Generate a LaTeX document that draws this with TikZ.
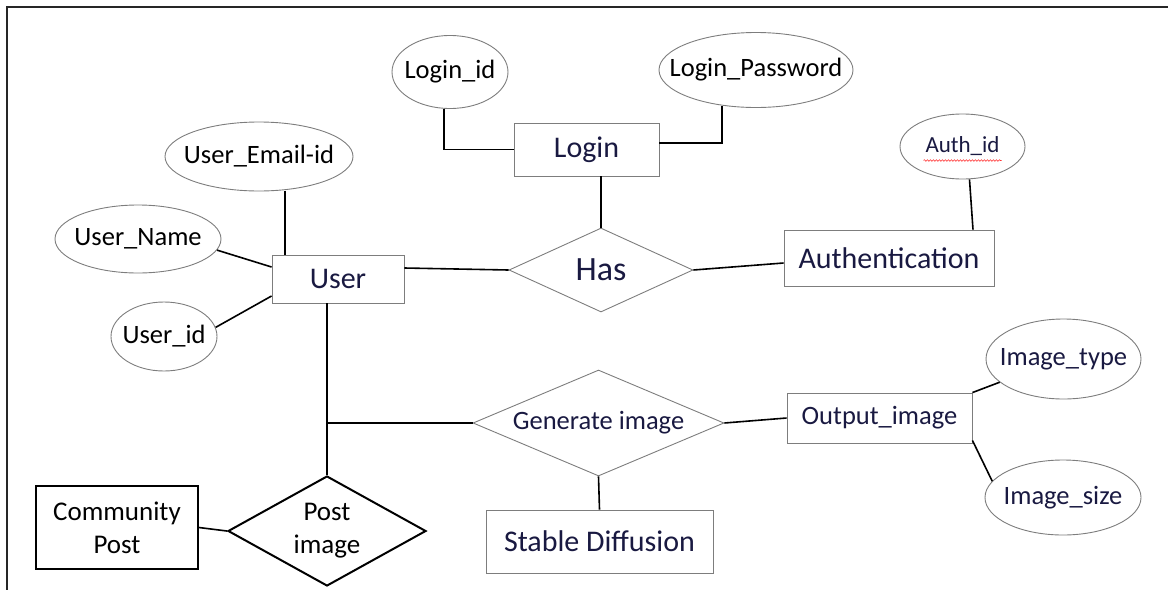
\documentclass[tikz,border=0pt]{standalone}
\usepackage{fontspec}
\setmainfont{Carlito}
\usetikzlibrary{shapes.geometric,decorations.pathmorphing}
\definecolor{navy}{RGB}{25,25,65}
\definecolor{edgegray}{RGB}{125,125,125}
\newcommand\zw[1]{\makebox[0pt]{#1}}
\begin{document}
\begin{tikzpicture}[x=1pt,y=-1pt,
  attr/.style={ellipse, draw=edgegray, line width=0.9pt, inner sep=0pt, font=\fontsize{26.5}{32}\selectfont},
  ent/.style={rectangle, draw=edgegray, line width=0.9pt, inner sep=0pt, text=navy, font=\fontsize{30}{36}\selectfont},
  rel/.style={diamond, draw=edgegray, line width=0.9pt, inner sep=0pt, text=navy},
  boldent/.style={rectangle, draw=black, line width=2pt, inner sep=0pt, align=center, font=\fontsize{27}{33}\selectfont},
  boldrel/.style={diamond, draw=black, line width=2pt, inner sep=0pt, align=center, font=\fontsize{27}{33}\selectfont},
  conn/.style={black, line width=1.6pt},
  ]
\useasboundingbox (0,0) rectangle (1168,590);
\draw[line width=1.8pt, black!85] (1168,7) -- (7,7) -- (7,590);

\node[attr, minimum width=116, minimum height=73] (loginid) at (450,72) {\zw{Login\_id}};
\node[attr, minimum width=194, minimum height=75] (lpw) at (756,70) {\zw{Login\_Password}};
\node[ent, minimum width=145, minimum height=53] (login) at (586.5,149.5) {Login};
\node[attr, minimum width=188, minimum height=69] (email) at (259,156.5) {\zw{User\_Email-id}};
\node[attr, minimum width=166, minimum height=68] (uname) at (138,239) {\zw{User\_Name}};
\node[ent, minimum width=132, minimum height=48] (user) at (338,279) {User};
\node[attr, minimum width=106, minimum height=69] (userid) at (164,336.5) {\zw{User\_id}};
\node[rel, aspect=2.19, minimum width=184, minimum height=84, font=\fontsize{34}{40}\selectfont] (has) at (601,270) {Has};
\node[attr, minimum width=125, minimum height=65, text=navy, font=\fontsize{23}{28}\selectfont] (authid) at (962.5,146.5) {\zw{Auth\_id}};
\node[ent, minimum width=210, minimum height=56] (auth) at (889,258) {Authentication};
\node[rel, aspect=2.37, minimum width=251, minimum height=106, font=\fontsize{26.5}{32}\selectfont] (gen) at (598.5,423) {Generate image};
\node[ent, minimum width=185, minimum height=50, font=\fontsize{26.5}{32}\selectfont] (out) at (879.5,418) {Output\_image};
\node[attr, text=navy, minimum width=155, minimum height=80] (itype) at (1063.5,359) {\zw{Image\_type}};
\node[attr, text=navy, minimum width=156, minimum height=75] (isize) at (1063,497.5) {\zw{Image\_size}};
\node[boldent, minimum width=162, minimum height=83] (comm) at (117,527.5) {Community\\Post};
\node[boldrel, aspect=1.8, minimum width=198, minimum height=110] (post) at (327,531) {Post\\image};
\node[ent, minimum width=227, minimum height=63] (stable) at (599.5,541.5) {Stable Diffusion};

\draw[conn] ([xshift=-6pt]loginid.south) |- (login.west);
\draw[conn] (lpw.226) |- ([yshift=6.5pt]login.east);
\draw[conn] (has.north |- login.south) -- (has.north);
\path ([xshift=26pt]email.south) coordinate (e1);
\draw[conn] (e1) -- (e1 |- user.north);
\draw[conn] (uname.-8) -- ([yshift=12pt]user.west);
\draw[conn] (userid.10) -- ([yshift=-17pt]user.west);
\draw[conn] ([yshift=11pt]user.east) -- (has.west);
\draw[conn] (has.east) -- ([yshift=-5pt]auth.west);
\draw[conn] ([xshift=7pt]authid.south) -- ([xshift=84pt]auth.north);
\draw[conn] (post.north |- user.south) -- (post.north);
\draw[conn] (post.north |- gen.west) -- (gen.west);
\draw[conn] (gen.east) -- (out.west);
\draw[conn] (gen.south) -- (stable.north);
\draw[conn] (out.north east) -- (itype.200);
\draw[conn] ([yshift=3pt]out.south east) -- (isize.167);
\draw[conn] (comm.east) -- (post.west);

\draw[red!80, line width=0.6pt, decorate, decoration={snake, amplitude=0.8pt, segment length=3pt}]
  ([shift={(-39,14)}]authid.center) -- ([shift={(39,14)}]authid.center);
\end{tikzpicture}
\end{document}
